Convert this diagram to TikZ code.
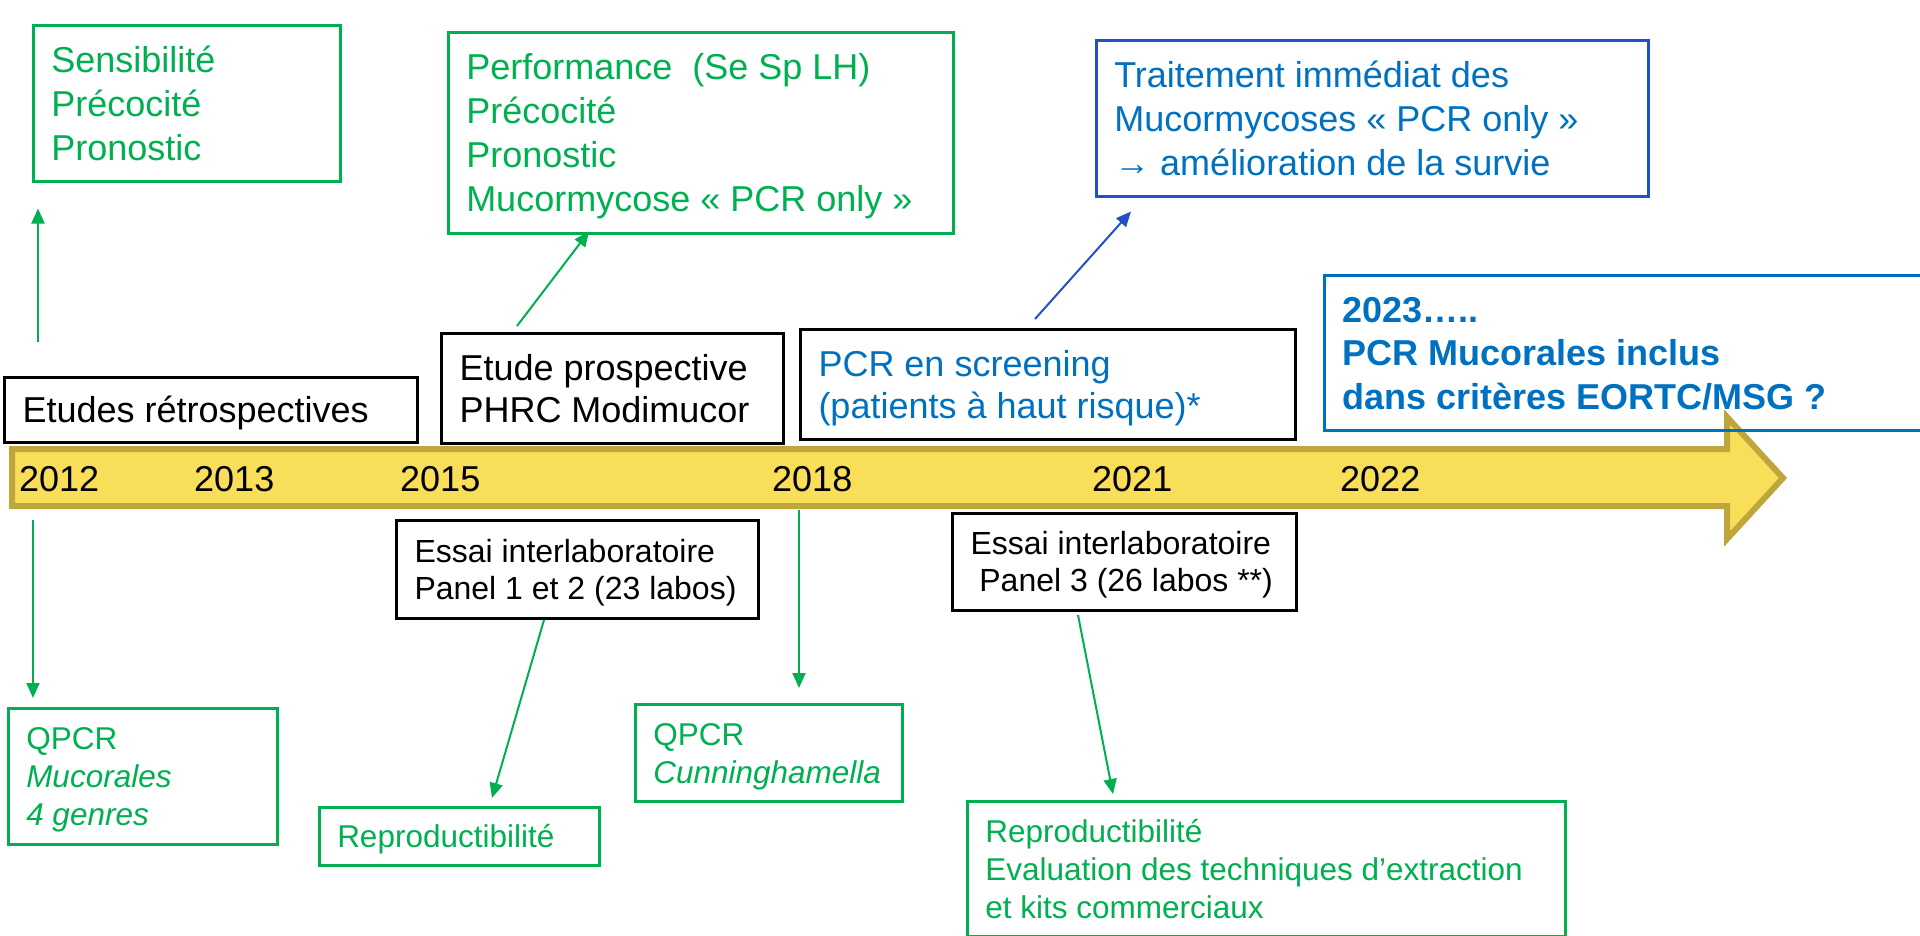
\documentclass[tikz,border=0pt]{standalone}
\usepackage{fontspec}
\setmainfont{Liberation Sans}
\usetikzlibrary{arrows.meta}

\definecolor{pgreen}{RGB}{0,176,80}
\definecolor{pblue}{RGB}{0,112,192}
\definecolor{tblue}{RGB}{34,80,200}
\definecolor{barfill}{RGB}{249,222,89}
\definecolor{barline}{RGB}{190,165,60}

% struts so that boxes centre on cap height (and natural word spaces)
\newcommand{\ttop}{\spaceskip=0pt\xspaceskip=0pt\rule{0pt}{0.966em}}
\newcommand{\tbot}{\rule[-0.25em]{0pt}{0.25em}}

\tikzset{
  box/.style={draw, anchor=north west, align=left, inner xsep=18pt, inner ysep=0pt},
  greenbox/.style={box, draw=pgreen, text=pgreen, line width=2.5pt},
  blackbox/.style={box, draw=black, text=black, line width=3pt},
  bluebox/.style={box, draw=pblue, text=pblue, line width=2.5pt},
  bigtxt/.style={font=\fontsize{36}{44}\selectfont},
  midtxt/.style={font=\fontsize{36}{42}\selectfont},
  smalltxt/.style={font=\fontsize{32}{37}\selectfont},
  greentxt/.style={font=\fontsize{31.5}{38}\selectfont},
  year/.style={anchor=base west, inner sep=0pt, font=\fontsize{36}{44}\selectfont},
  garrow/.style={draw=pgreen, line width=2pt, -{Triangle[length=15pt,width=13pt]}},
  barrow/.style={draw=tblue, line width=2pt, -{Triangle[length=15pt,width=13pt]}}
}

\begin{document}
\begin{tikzpicture}[x=1pt, y=-1pt]
\useasboundingbox (0,0) rectangle (1920,935);
\clip (0,0) rectangle (1920,935);

% timeline arrow
\draw[line width=6pt, draw=barline, fill=barfill, miter limit=10]
  (12,449) -- (1727,449) -- (1727,417) -- (1783,478) -- (1727,539) -- (1727,506) -- (12,506) -- cycle;

\node[year] (y2012) at (19,491) {2012};
\node[year] (y2013) at (194,491) {2013};
\node[year] (y2015) at (400,491) {2015};
\node[year] (y2018) at (772,491) {2018};
\node[year] (y2021) at (1092,491) {2021};
\node[year] (y2022) at (1340,491) {2022};

% upper boxes
\node[greenbox, bigtxt, text width=271pt, minimum height=156pt] (sens) at (32,24)
  {\ttop Sensibilité\\Précocité\\Pronostic\tbot};
\node[greenbox, bigtxt, text width=469pt, minimum height=201pt] (perf) at (447,31)
  {\ttop Performance\ \ (Se Sp LH)\\Précocité\\Pronostic\\Mucormycose « PCR only »\tbot};
\node[box, draw=tblue, text=pblue, line width=2.5pt, bigtxt, text width=516pt, minimum height=156pt] (trait) at (1095,39)
  {\ttop Traitement immédiat des\\Mucormycoses « PCR only »\\→ amélioration de la survie\tbot};
\node[bluebox, font=\fontsize{36}{43.5}\selectfont\bfseries, text width=584pt, minimum height=155pt] (mucin) at (1323,274)
  {\ttop 2023…..\\PCR Mucorales inclus\\dans critères EORTC/MSG ?\tbot};

% boxes on the timeline
\node[blackbox, bigtxt, text width=377pt, minimum height=65pt] (retro) at (3,376)
  {\ttop Etudes rétrospectives\tbot};
\node[blackbox, midtxt, text width=306pt, minimum height=110pt] (prosp) at (440,332)
  {\ttop Etude prospective\\PHRC Modimucor\tbot};
\node[blackbox, text=pblue, midtxt, text width=459pt, minimum height=110pt] (screen) at (799,328)
  {\ttop PCR en screening\\(patients à haut risque)*\tbot};
\node[blackbox, smalltxt, text width=326pt, minimum height=98pt] (essai1) at (395,519)
  {\ttop Essai interlaboratoire\\Panel 1 et 2 (23 labos)\tbot};
\node[blackbox, smalltxt, text width=308pt, minimum height=97pt] (essai2) at (951,512)
  {\ttop Essai interlaboratoire\\\ Panel 3 (26 labos **)\tbot};

% lower boxes
\node[greenbox, greentxt, text width=233pt, minimum height=136pt] (qpcr1) at (7,707)
  {\ttop QPCR\\\textit{Mucorales}\\\textit{4 genres}\tbot};
\node[greenbox, greentxt, text width=244pt, minimum height=58pt] (repro1) at (318,806)
  {\ttop Reproductibilité\tbot};
\node[greenbox, greentxt, text width=231pt, minimum height=97pt] (qpcr2) at (634,703)
  {\ttop QPCR\\\textit{Cunninghamella}\tbot};
\node[greenbox, greentxt, text width=562pt, minimum height=135pt] (repro2) at (966,800)
  {\ttop Reproductibilité\\Evaluation des techniques d’extraction\\et kits commerciaux\tbot};

% connectors
\coordinate (d12) at (33,520);
\coordinate (d18) at (799,510);
\draw[garrow] ([xshift=35pt,yshift=34pt]retro.north west) -- ([xshift=6pt,yshift=-26pt]sens.south west);
\draw[garrow] ([xshift=77pt,yshift=6pt]prosp.north west) -- ([xshift=142pt,yshift=3pt]perf.south west);
\draw[barrow] ([xshift=236pt,yshift=9pt]screen.north west) -- ([xshift=36pt,yshift=-14pt]trait.south west);
\draw[garrow] (d12) -- ([xshift=26pt,yshift=9pt]qpcr1.north west);
\draw[garrow] ([xshift=149pt]essai1.south west) -- ([xshift=174pt,yshift=8pt]repro1.north west);
\draw[garrow] (d18) -- ([xshift=165pt,yshift=15pt]qpcr2.north west);
\draw[garrow] ([xshift=127pt,yshift=-3pt]essai2.south west) -- ([xshift=147pt,yshift=6pt]repro2.north west);

\end{tikzpicture}
\end{document}
